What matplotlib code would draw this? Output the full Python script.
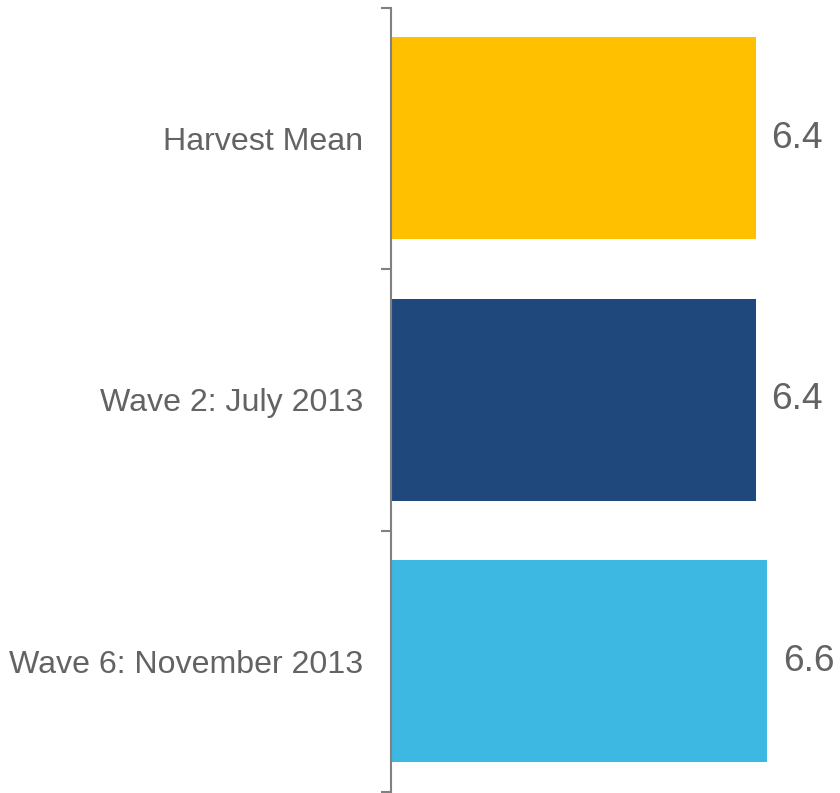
import matplotlib
matplotlib.use("Agg")
import matplotlib.pyplot as plt

categories = ["Harvest Mean", "Wave 2: July 2013", "Wave 6: November 2013"]
values = [6.4, 6.4, 6.6]
colors = ["#FFC000", "#1F497D", "#3CB8E3"]

plt.rcParams["font.family"] = ["Liberation Sans", "DejaVu Sans"]
text_color = "#636363"
axis_color = "#808080"

fig = plt.figure(figsize=(8.4, 7.93), dpi=100)
ax = fig.add_axes([391 / 840, 1 - 792 / 793, 449 / 840, 784.5 / 793])

pos = list(range(len(categories)))
ax.barh(pos, values, height=0.772, color=colors)

for y, v in zip(pos, values):
    ax.text(v + 0.28, y, f"{v:.1f}", va="center", ha="left",
            fontsize=26.7, color=text_color)

ax.set_xlim(0, 7.88)
ax.set_ylim(2.5, -0.5)

for s in ["top", "right", "bottom"]:
    ax.spines[s].set_visible(False)
ax.spines["left"].set_color(axis_color)
ax.spines["left"].set_linewidth(1.5)

ax.set_xticks([])
ax.set_yticks(pos)
ax.set_yticklabels(categories, fontsize=23.1, color=text_color)
ax.tick_params(axis="y", which="major", length=0, pad=20)
ax.set_yticks([-0.5, 0.5, 1.5, 2.5], minor=True)
ax.tick_params(axis="y", which="minor", length=7, width=1.5, color=axis_color)

fig.savefig("out.png", dpi=100)
